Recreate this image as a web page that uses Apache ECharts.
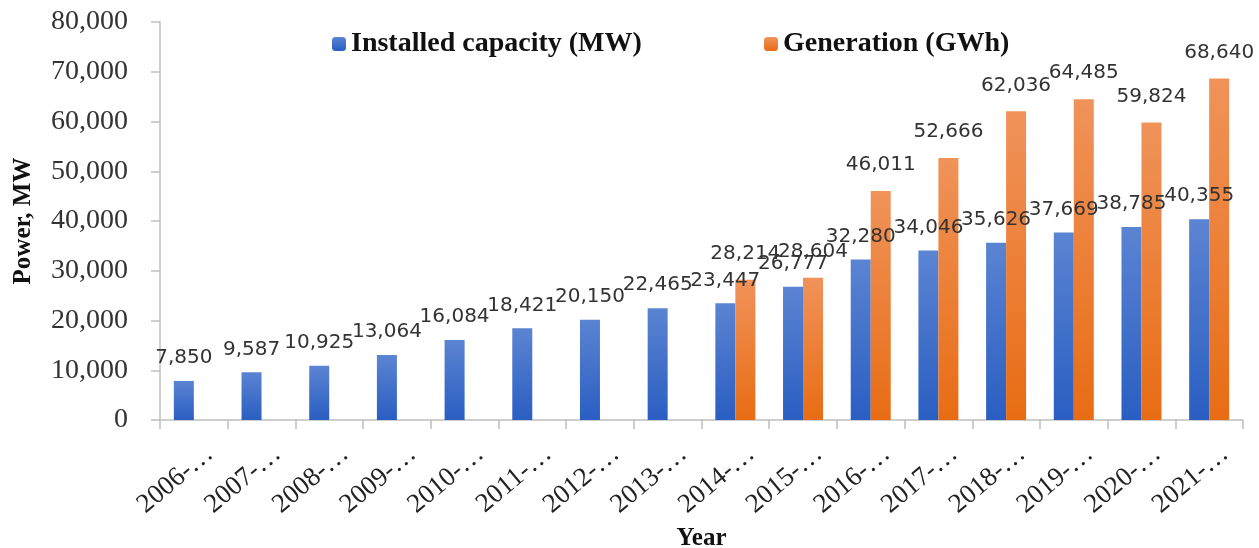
<!DOCTYPE html>
<html>
<head>
<meta charset="utf-8">
<script src="https://cdn.jsdelivr.net/npm/echarts@6/dist/echarts.min.js"></script>
<style>
  html, body { margin: 0; padding: 0; background: #fff; }
  #chart { width: 1259px; height: 548px; }
</style>
</head>
<body>
<div id="chart"></div>
<script>
// data
var years = ['2006-2007', '2007-2008', '2008-2009', '2009-2010', '2010-2011', '2011-2012',
  '2012-2013', '2013-2014', '2014-2015', '2015-2016', '2016-2017', '2017-2018',
  '2018-2019', '2019-2020', '2020-2021', '2021-2022'];
var capacity = [7850, 9587, 10925, 13064, 16084, 18421, 20150, 22465,
  23447, 26777, 32280, 34046, 35626, 37669, 38785, 40355];
var generation = [null, null, null, null, null, null, null, null,
  28214, 28604, 46011, 52666, 62036, 64485, 59824, 68640];
var yTicks = [0, 10000, 20000, 30000, 40000, 50000, 60000, 70000, 80000];

function fmt(v) {
  return String(v).replace(/\B(?=(\d{3})+(?!\d))/g, ',');
}

var chart = echarts.init(document.getElementById('chart'));

var serif = 'Liberation Serif';
var legendText = { fontFamily: serif, fontSize: 28, fontWeight: 'bold', color: '#111' };

var option = {
  animation: false,
  textStyle: { fontFamily: serif },
  color: ['#3a6bc9', '#ec7a2c'],
  // two legends so each item sits where it does in the picture
  legend: [
    { left: 327, top: 25, itemWidth: 14, itemHeight: 14, textStyle: legendText, data: ['Installed capacity (MW)'] },
    { left: 759, top: 25, itemWidth: 14, itemHeight: 14, textStyle: legendText, data: ['Generation (GWh)'] }
  ],
  grid: { left: 160, right: 16, top: 22, bottom: 128, outerBoundsMode: 'none' },
  xAxis: {
    type: 'category',
    data: years,
    name: 'Year',
    nameLocation: 'middle',
    nameGap: 106,
    nameTextStyle: { fontFamily: serif, fontSize: 25, fontWeight: 'bold', color: '#111' },
    axisLine: { lineStyle: { color: '#bfbfbf', width: 1.5 } },
    axisTick: { show: true, length: 9, lineStyle: { color: '#bfbfbf', width: 1.5 } },
    axisLabel: {
      rotate: 40,
      interval: 0,
      margin: 44,
      padding: [0, -21, 0, 0],
      fontFamily: serif,
      fontSize: 27,
      color: '#222',
      formatter: function (v) { return v.slice(0, 5) + '\u2026'; }
    }
  },
  yAxis: {
    type: 'value',
    min: 0,
    max: 80000,
    interval: 10000,
    name: 'Power, MW',
    nameLocation: 'middle',
    nameGap: 124,
    nameTextStyle: { fontFamily: serif, fontSize: 25, fontWeight: 'bold', color: '#111' },
    axisLine: { show: true, lineStyle: { color: '#bfbfbf', width: 1.5 } },
    axisTick: { show: true, length: 9, lineStyle: { color: '#bfbfbf', width: 1.5 } },
    splitLine: { show: false },
    axisLabel: {
      margin: 32,
      fontFamily: serif,
      fontSize: 28,
      color: '#333',
      formatter: function (v) { return yTicks.indexOf(v) >= 0 ? fmt(v) : ''; }
    }
  },
  series: [
    {
      name: 'Installed capacity (MW)',
      type: 'bar',
      data: capacity,
      barWidth: 20,
      barGap: '0%',
      itemStyle: {
        color: new echarts.graphic.LinearGradient(0, 0, 0, 1, [
          { offset: 0, color: '#5b84d2' },
          { offset: 1, color: '#2a5ec2' }
        ])
      },
      label: {
        show: true,
        position: 'top',
        distance: 13,
        fontFamily: 'DejaVu Sans',
        fontSize: 20,
        color: '#333',
        formatter: function (p) { return fmt(p.value); }
      }
    },
    {
      name: 'Generation (GWh)',
      type: 'bar',
      data: generation,
      barWidth: 20,
      itemStyle: {
        color: new echarts.graphic.LinearGradient(0, 0, 0, 1, [
          { offset: 0, color: '#f0935a' },
          { offset: 1, color: '#e86c14' }
        ])
      },
      label: {
        show: true,
        position: 'top',
        distance: 16,
        fontFamily: 'DejaVu Sans',
        fontSize: 20,
        color: '#333',
        formatter: function (p) { return p.value == null ? '' : fmt(p.value); }
      }
    }
  ]
};

chart.setOption(option);
</script>
</body>
</html>
